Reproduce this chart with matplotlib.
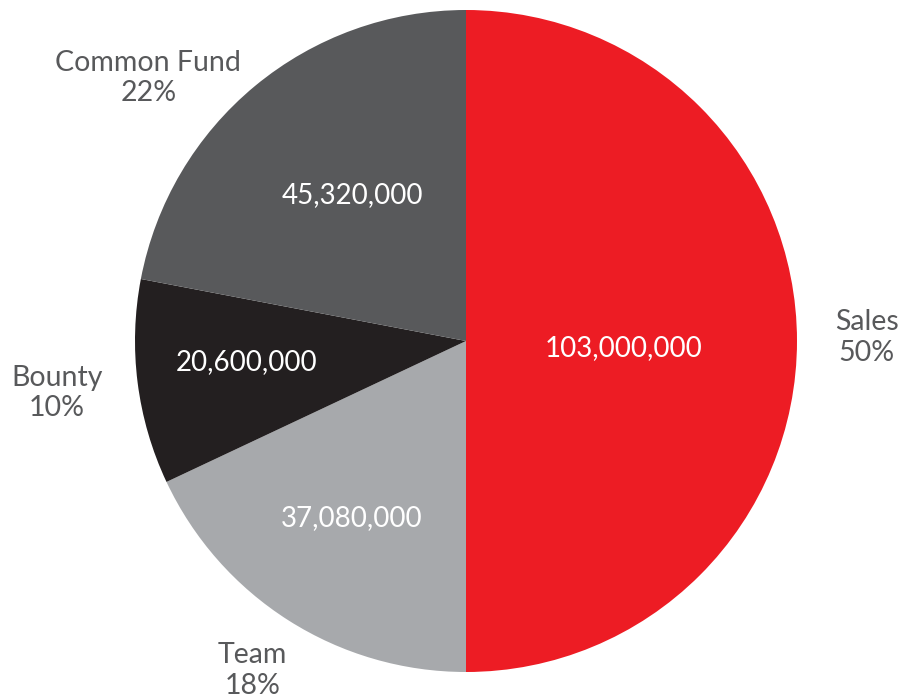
import matplotlib
matplotlib.use("Agg")
import matplotlib.pyplot as plt

### Data

categories = ["Sales", "Team", "Bounty", "Common Fund"]
values = [103000000, 37080000, 20600000, 45320000]
percent_labels = ["50%", "18%", "10%", "22%"]
value_labels = ["103,000,000", "37,080,000", "20,600,000", "45,320,000"]

### Styling and layout

colours = ["#ED1C24", "#A7A9AC", "#231F20", "#58595B"]
text_grey = "#58595B"
# where the outer labels sit, in units of the pie radius
name_pos = [(1.21, 0.01), (-0.646, -0.995), (-1.236, -0.157), (-0.96, 0.795)]
# where the value labels sit inside the slices
value_pos = [(0.477, -0.02), (-0.344, -0.535), (-0.662, -0.065), (-0.344, 0.441)]

plt.rcParams['font.family'] = ['Lato', 'DejaVu Sans']

fig = plt.figure(figsize=(9.07, 6.99), dpi=100)
# pie centre at about (466, 341) px, radius about 331 px
ax = fig.add_axes([135 / 907, 27 / 699, 662 / 907, 662 / 699])

ax.pie(values, colors=colours, startangle=90, counterclock=False,
       radius=1.0, wedgeprops=dict(linewidth=0))

for name, pct, (x, y) in zip(categories, percent_labels, name_pos):
   ax.text(x, y, name + "\n" + pct, ha="center", va="center",
           fontsize=20.5, color=text_grey, linespacing=1.22)

for lab, (x, y) in zip(value_labels, value_pos):
   ax.text(x, y, lab, ha="center", va="center", fontsize=20, color="white")

ax.set_xlim(-1, 1)
ax.set_ylim(-1, 1)
ax.set_aspect("equal")
ax.axis("off")

fig.savefig("out.png", dpi=100)
